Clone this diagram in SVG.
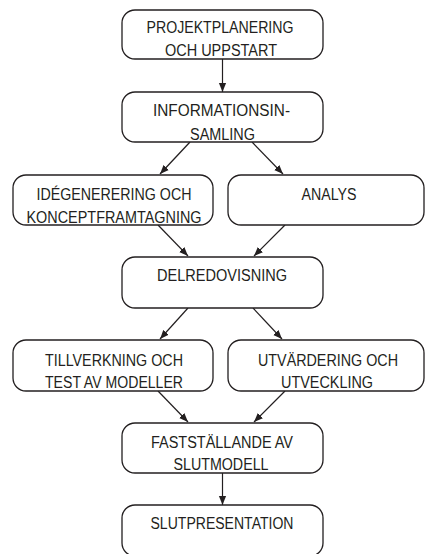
<svg xmlns="http://www.w3.org/2000/svg" width="425" height="554" viewBox="0 0 425 554">
<defs>
<style>
.box{fill:#fff;stroke:#231f20;stroke-width:1.3}
.t{font-family:"Liberation Sans",Arial,sans-serif;font-size:16px;fill:#231f20;text-anchor:middle}
.c{stroke:#231f20;stroke-width:1.2;fill:none;marker-end:url(#ah)}
</style>
<marker id="ah" viewBox="0 0 10 10" refX="10" refY="5" markerWidth="9" markerHeight="9" markerUnits="userSpaceOnUse" orient="auto">
<path d="M0,1 L10,5 L0,9 Z" fill="#231f20"/>
</marker>
</defs>
<rect width="425" height="554" fill="#fff"/>
<g id="connectors">
<line class="c" x1="222.5" y1="59" x2="222.5" y2="92"/>
<line class="c" x1="190" y1="142" x2="160" y2="174"/>
<line class="c" x1="252" y1="142" x2="283" y2="174"/>
<line class="c" x1="158" y1="225" x2="188" y2="256"/>
<line class="c" x1="285" y1="225" x2="254" y2="256"/>
<line class="c" x1="188" y1="308" x2="160" y2="339"/>
<line class="c" x1="253" y1="308" x2="282" y2="339"/>
<line class="c" x1="158" y1="391" x2="188" y2="422"/>
<line class="c" x1="285" y1="391" x2="254" y2="422"/>
<line class="c" x1="222.5" y1="473" x2="222.5" y2="505"/>
</g>
<g id="n1">
<rect class="box" x="122" y="10" width="201" height="49" rx="13"/>
<text class="t" x="220" y="33" textLength="147" lengthAdjust="spacingAndGlyphs">PROJEKTPLANERING</text>
<text class="t" x="221" y="56" textLength="112" lengthAdjust="spacingAndGlyphs">OCH UPPSTART</text>
</g>
<g id="n2">
<rect class="box" x="122" y="92" width="201" height="50" rx="13"/>
<text class="t" x="221.5" y="116" textLength="137" lengthAdjust="spacingAndGlyphs">INFORMATIONSIN-</text>
<text class="t" x="222.5" y="140" textLength="65" lengthAdjust="spacingAndGlyphs">SAMLING</text>
</g>
<g id="n3">
<rect class="box" x="13" y="175" width="200" height="50" rx="13"/>
<text class="t" x="114" y="200" textLength="155" lengthAdjust="spacingAndGlyphs">IDÉGENERERING OCH</text>
<text class="t" x="114" y="223" textLength="175" lengthAdjust="spacingAndGlyphs">KONCEPTFRAMTAGNING</text>
</g>
<g id="n4">
<rect class="box" x="228" y="175" width="196" height="50" rx="13"/>
<text class="t" x="329" y="200" textLength="55" lengthAdjust="spacingAndGlyphs">ANALYS</text>
</g>
<g id="n5">
<rect class="box" x="122" y="257" width="201" height="51" rx="13"/>
<text class="t" x="222" y="281" textLength="130" lengthAdjust="spacingAndGlyphs">DELREDOVISNING</text>
</g>
<g id="n6">
<rect class="box" x="13" y="340" width="200" height="51" rx="13"/>
<text class="t" x="114" y="366" textLength="138" lengthAdjust="spacingAndGlyphs">TILLVERKNING OCH</text>
<text class="t" x="114" y="388" textLength="138" lengthAdjust="spacingAndGlyphs">TEST AV MODELLER</text>
</g>
<g id="n7">
<rect class="box" x="228" y="340" width="196" height="51" rx="13"/>
<text class="t" x="328" y="366" textLength="140" lengthAdjust="spacingAndGlyphs">UTVÄRDERING OCH</text>
<text class="t" x="327" y="388" textLength="92" lengthAdjust="spacingAndGlyphs">UTVECKLING</text>
</g>
<g id="n8">
<rect class="box" x="122" y="423" width="201" height="50" rx="13"/>
<text class="t" x="222" y="448" textLength="142" lengthAdjust="spacingAndGlyphs">FASTSTÄLLANDE AV</text>
<text class="t" x="221" y="470" textLength="95" lengthAdjust="spacingAndGlyphs">SLUTMODELL</text>
</g>
<g id="n9">
<rect class="box" x="122" y="505" width="201" height="51" rx="13"/>
<text class="t" x="222" y="529" textLength="143" lengthAdjust="spacingAndGlyphs">SLUTPRESENTATION</text>
</g>
</svg>
